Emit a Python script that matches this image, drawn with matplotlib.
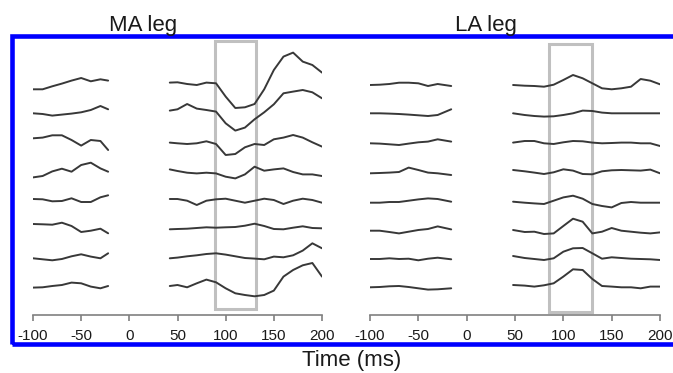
import numpy as np
import matplotlib.pyplot as plt
from matplotlib.patches import Rectangle

plt.rcParams['font.family'] = ['Liberation Sans', 'DejaVu Sans']

# time grids (ms)
t_pre_ma = [-100, -90, -80, -70, -60, -50, -40, -30, -22]
t_post_ma = [42, 50, 60, 70, 80, 90, 100, 110, 120, 130, 140, 150, 160, 170, 180, 190, 200]
t_pre_la = [-100, -90, -80, -70, -60, -50, -40, -30, -16]
t_post_la = [48, 60, 70, 80, 90, 100, 110, 120, 130, 140, 150, 160, 170, 180, 190, 200]

# MA leg traces (amplitude, arbitrary units)
ma_pre = [
    [0, 0, 3, 5.7, 8.7, 11.3, 8, 10, 8.7],
    [0, -0.7, -2.3, -1.3, -0.3, 1, 3.3, 7.3, 4],
    [0, 0.7, 3, 3, -1.7, -7.3, -1.7, -2.7, -11.7],
    [-0.7, 0.7, 5.3, 8, 5, 11.7, 14, 8.3, 5],
    [0, -0.3, -2.3, -2, 0.7, -3, -3, 1.7, 3.7],
    [0, -0.3, -0.7, 1.3, -2, -8, -6.7, -4.7, -9.3],
    [0, -1, -2, -0.7, 2, 4, 1.7, 0, 5],
    [-0.3, 0, 1.3, 2.3, 4.7, 4, 0.7, -1, 1.3],
]
ma_post = [
    [6.7, 7, 5.3, 4.3, 6.7, 6, -7.3, -18.7, -18, -14.7, 0, 19.3, 32.7, 36.7, 27.7, 24.3, 16.7],
    [2.7, 4, 9.3, 4.7, 3.3, 1.7, -10, -17.3, -14.3, -6, 1, 9, 20, 21.7, 23.3, 21, 15],
    [-4.3, -5, -5.7, -5, -3, -5.7, -16.7, -15.7, -9, -5.7, -6.7, -1, 0.7, 3.3, 0.7, -4, -8.3],
    [7.3, 5.7, 4, 3.3, 4, 3.3, 0, -1.7, 2.3, 10, 6, 7.3, 8.3, 4.7, 2.3, 2.3, 0.7],
    [0, 0, -1.7, -6, -1.7, -0.3, 0.3, -1.7, -3.7, -1.7, 0.3, -1, -5, -1.7, 0.3, -1, -3.7],
    [-5.3, -5, -4.7, -4, -3.3, -3.7, -3.3, -3, -1.7, 0.3, -2, -5, -5.3, -3.7, -2.3, -4, -4.3],
    [0, 0.7, 2, 3, 4.3, 5, 3.7, 2, 0.3, -0.3, -1, 1.7, 1, 3, 7.7, 15, 10],
    [1.3, 2.3, 0, 4, 7.7, 5, -1, -6, -7.7, -9, -7.7, -3.3, 10.7, 17.3, 22, 24.3, 10.7],
]

# LA leg traces
la_pre = [
    [0, 0.3, 1, 2.3, 2.3, 1.7, -1, 1, -1],
    [0, 0, -0.3, -0.7, -1.3, -2, -2.7, -1.7, 4],
    [0, -0.3, -1, -1.7, -0.3, 1, 1.7, 4, 1.7],
    [0, 0.3, 0.7, 1.3, 5.7, 3.3, 0.7, 0, -1.7],
    [0, 0, 0.7, 0.7, 2, 3.3, 4.3, 3.7, 1],
    [0, 0, -1.3, -2.7, -1, 0.7, 1.7, 4.3, 1.3],
    [0, 0, 0.7, 0, 0.3, -1.3, 0.3, 1.3, -0.3],
    [0, 0.3, 1, 1.3, 0.3, -1, -2.3, -2, -1],
]
la_post = [
    [0, -0.7, -1, -1.7, 0.3, 5, 10, 6.7, 1.7, -3.3, -4.3, -3.3, -1.7, 6, 4.3, 0.7],
    [0, -1.7, -2.7, -3.3, -3, -1.7, 0, 2.7, 2.3, 0.7, 0, 0, 0, 0, 0, 0],
    [0.7, 2.3, 2.3, 0, -0.7, 1, 2.3, 2, 0.7, 0, 0.3, 0.7, 0.7, 0, 0, -2.7],
    [3.3, 2, 0.7, -0.7, 1, 4, 2.7, -0.7, -1, 2, 3, 3.3, 3, 2.7, 3.7, 0],
    [1, 0, -0.7, -1.3, 2, 5.3, 7, 4, -1.3, -3.3, -4.7, -0.3, 0.7, 0, 0, 0],
    [0.7, -1.3, -1, -3.3, -2.7, 4.7, 12, 9, -2.7, -1, 2.7, 0, -1, -2, -2.7, -1.7],
    [3, 1, 0, -1, 0.7, 7.3, 10.7, 11, 5.7, 0.3, 1.7, 1, 0.3, 0, -0.3, -1],
    [2.3, 1.7, 0.7, 2, 4, 10.7, 18, 17.3, 8.3, 1.3, 0.7, 0, 0, -1, 0.7, 0.7],
]

ticks = [-100, -50, 0, 50, 100, 150, 200]
tick_labels = ['-100', '-50', '0', '50', '100', '150', '200']
ma_window = (89, 132)
la_window = (85, 129.5)

# layout (pixels of a 673x373 canvas)
W, H = 673, 373
ma_rows = [89.3, 113.3, 138.3, 176.7, 199, 224, 258.3, 287.3]
la_rows = [85, 113.3, 143.3, 173.3, 202.7, 230.7, 259, 287.3]
y_axis, y_top = 315, 38

fig = plt.figure(figsize=(6.73, 3.73), dpi=100)


def panel(x0, x1, rows, t_pre, t_post, pre, post, window, box_top, box_bot):
    ax = fig.add_axes([x0 / W, 1 - y_axis / H, (x1 - x0) / W, (y_axis - y_top) / H])
    ax.set_xlim(-100, 200)
    ax.set_ylim(0, y_axis - y_top)
    for r, a, b in zip(rows, pre, post):
        base = y_axis - r
        ax.plot(t_pre, base + np.array(a), color='#383838', lw=1.4,
                solid_joinstyle='round', solid_capstyle='round')
        ax.plot(t_post, base + np.array(b), color='#383838', lw=1.4,
                solid_joinstyle='round', solid_capstyle='round')
    ax.add_patch(Rectangle((window[0], y_axis - box_bot), window[1] - window[0],
                           box_bot - box_top, fill=False, ec='#c0c0c0', lw=2.2))
    for s in ['top', 'left', 'right']:
        ax.spines[s].set_visible(False)
    ax.spines['bottom'].set_color('#808080')
    ax.spines['bottom'].set_linewidth(1.2)
    ax.set_yticks([])
    ax.set_xticks(ticks)
    ax.set_xticklabels(tick_labels)
    ax.tick_params(axis='x', direction='out', length=4, width=1.2, color='#808080',
                   labelsize=11, labelcolor='#1a1a1a', pad=6)
    ax.patch.set_alpha(0)
    return ax


panel(33, 322, ma_rows, t_pre_ma, t_post_ma, ma_pre, ma_post, ma_window, 41, 309)
panel(370, 660, la_rows, t_pre_la, t_post_la, la_pre, la_post, la_window, 44, 312)

frame = Rectangle((12 / W, 1 - 344 / H), (700 - 12) / W, (344 - 35.5) / H,
                  transform=fig.transFigure, fill=False, ec='#0000ff', lw=3.3,
                  zorder=1, clip_on=False)
fig.patches.append(frame)

fig.text(143.5 / W, 1 - 31 / H, 'MA leg', ha='center', va='baseline', fontsize=16,
         color='#1a1a1a', zorder=3)
fig.text(486 / W, 1 - 31 / H, 'LA leg', ha='center', va='baseline', fontsize=16,
         color='#1a1a1a', zorder=3)
fig.text(352 / W, 1 - 366 / H, 'Time (ms)', ha='center', va='baseline', fontsize=16,
         color='#1a1a1a', zorder=3)

fig.savefig('out.png', dpi=100)
